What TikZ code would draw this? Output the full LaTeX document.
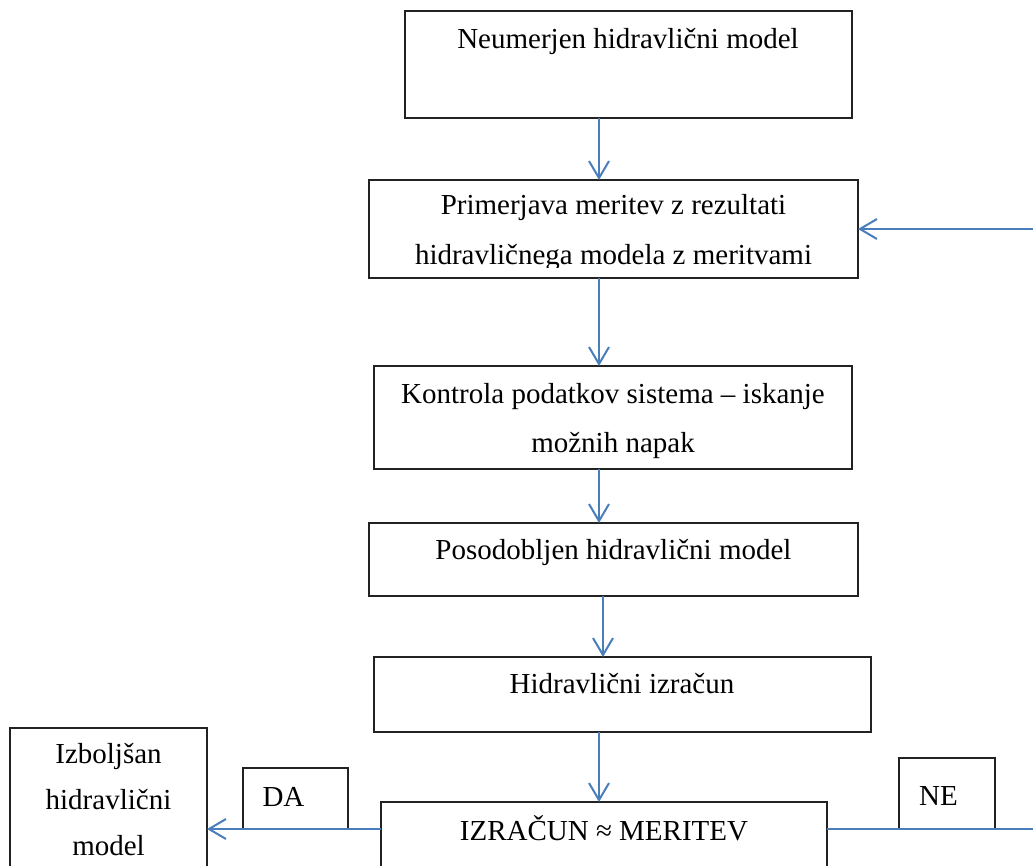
\documentclass[tikz,border=0pt]{standalone}
\usepackage{fontspec}
\setmainfont{Liberation Serif}
\usetikzlibrary{arrows.meta}
\definecolor{arrowblue}{HTML}{4A7EBB}
\definecolor{boxline}{HTML}{222222}
\begin{document}
\begin{tikzpicture}[x=1pt,y=-1pt,
  box/.style={draw=boxline,line width=1.4pt,inner sep=0pt,outer sep=0pt,anchor=north west},
  txt/.style={inner sep=0pt,outer sep=0pt,anchor=base,font=\fontsize{29}{50}\selectfont},
  conn/.style={draw=arrowblue,line width=2pt},
  arr/.style={conn,-{Straight Barb[length=17pt,width=20pt,line width=2pt]}}]
\useasboundingbox (0,0) rectangle (1033,866);
\clip (0,0) rectangle (1033,866);
% boxes
\node[box,minimum width=447pt,minimum height=107pt] (b1) at (405,11) {};
\node[box,minimum width=489pt,minimum height=98pt] (b2) at (369,180) {};
\node[box,minimum width=478pt,minimum height=103pt] (b3) at (374,366) {};
\node[box,minimum width=489pt,minimum height=73pt] (b4) at (369,523) {};
\node[box,minimum width=497pt,minimum height=75pt] (b5) at (374,657) {};
\node[box,minimum width=446pt,minimum height=100pt] (b6) at (381,802) {};
\node[box,minimum width=197pt,minimum height=172pt] (b7) at (10,728) {};
\node[box,minimum width=105pt,minimum height=61pt] (b8) at (243,768) {};
\node[box,minimum width=96pt,minimum height=71pt] (b9) at (899,758) {};
% texts
\node[txt] (t1) at (628,49) {Neumerjen hidravlični model};
\node[txt] (t2a) at (613.5,215) {Primerjava meritev z rezultati};
\begin{scope}
\clip (369,180) rectangle (858,267.5);
\node[txt] (t2b) at (613.5,265) {hidravličnega modela z meritvami};
\end{scope}
\node[txt] (t3a) at (613,403) {Kontrola podatkov sistema – iskanje};
\node[txt] (t3b) at (613,452) {možnih napak};
\node[txt] (t4) at (613.5,559) {Posodobljen hidravlični model};
\node[txt] (t5) at (622,693) {Hidravlični izračun};
\node[txt] (t6) at (604,840) {IZRAČUN ≈ MERITEV};
\node[txt] (t7a) at (108.5,763) {Izboljšan};
\node[txt] (t7b) at (108.5,809) {hidravlični};
\node[txt] (t7c) at (108.5,855) {model};
\node[txt] (t8) at (283.5,806) {DA};
\node[txt] (t9) at (938.5,805) {NE};
% helper coordinates
\coordinate (rc) at (1040,829);
% connectors
\draw[arr] (b1.south -| 599,0) -- (b2.north -| 599,0);
\draw[arr] (b2.south -| 599,0) -- (b3.north -| 599,0);
\draw[arr] (b3.south -| 599,0) -- (b4.north -| 599,0);
\draw[arr] (b4.south -| 603,0) -- (b5.north -| 603,0);
\draw[arr] (b5.south -| 599,0) -- (b6.north -| 599,0);
\draw[arr] (b6.west |- b8.south) -- (b7.east |- b8.south);
\draw[arr] (b6.east |- b8.south) -- (rc) |- (b2.east);
\end{tikzpicture}
\end{document}
